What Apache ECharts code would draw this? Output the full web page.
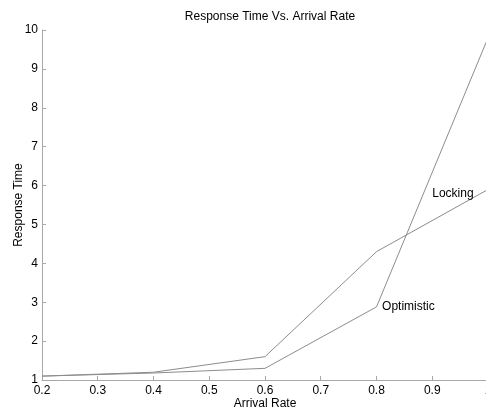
<!DOCTYPE html>
<html>
<head>
<meta charset="utf-8">
<script src="https://cdn.jsdelivr.net/npm/echarts@6/dist/echarts.min.js"></script>
<style>
  html, body { margin: 0; padding: 0; background: #fff; }
  #chart { width: 486px; height: 409px; }
</style>
</head>
<body>
<div id="chart"></div>
<script>
const arrivalRate = [0.2, 0.4, 0.6, 0.8, 1.0]
const locking = [1.1, 1.2, 1.6, 4.3, 5.9]
const optimistic = [1.1, 1.18, 1.3, 2.88, 9.8]
const lockingLabelAt = [0.9, 5.8]
const optimisticLabelAt = [0.81, 2.88]

const font = 'Liberation Sans, Arial, sans-serif'
const lineColor = '#8c8c8c'
const axisColor = '#a8a8a8'

const chart = echarts.init(document.getElementById('chart'))

function pairs(xs, ys) {
  return xs.map((x, i) => [x, ys[i]])
}

function textMark(name, coord) {
  return {
    symbol: 'circle',
    symbolSize: 0,
    silent: true,
    itemStyle: { color: 'transparent' },
    label: { show: true, position: 'right', distance: 0, color: '#000', fontFamily: font, fontSize: 12, formatter: name },
    data: [{ coord: coord }],
  }
}

const option = {
  animation: false,
  backgroundColor: '#fff',
  title: {
    text: 'Response Time Vs. Arrival Rate',
    left: 265,
    textAlign: 'center',
    top: 6,
    textStyle: { fontFamily: font, fontSize: 12, fontWeight: 'normal', color: '#000' },
  },
  grid: { left: 42, width: 446, top: 30, height: 350, containLabel: false, outerBoundsMode: 'none' },
  xAxis: {
    type: 'value',
    min: 0.2,
    max: 1,
    interval: 0.1,
    name: 'Arrival Rate',
    nameLocation: 'middle',
    nameGap: 18,
    nameMoveOverlap: false,
    nameTextStyle: { fontFamily: font, fontSize: 12, color: '#000' },
    axisLine: { show: true, lineStyle: { color: axisColor, width: 1 } },
    axisTick: { show: true, inside: true, length: 4, lineStyle: { color: axisColor } },
    axisLabel: {
      color: '#000', fontFamily: font, fontSize: 12, margin: 5,
      formatter: (v) => String(Math.round(v * 10) / 10),
    },
    splitLine: { show: false },
  },
  yAxis: {
    type: 'value',
    min: 1,
    max: 10,
    interval: 1,
    name: 'Response Time',
    nameLocation: 'middle',
    nameGap: 17,
    nameMoveOverlap: false,
    nameTextStyle: { fontFamily: font, fontSize: 12, color: '#000' },
    axisLine: { show: true, lineStyle: { color: axisColor, width: 1 } },
    axisTick: { show: true, inside: true, length: 4, lineStyle: { color: axisColor } },
    axisLabel: { color: '#000', fontFamily: font, fontSize: 12, margin: 4 },
    splitLine: { show: false },
  },
  series: [
    {
      name: 'Locking',
      type: 'line',
      data: pairs(arrivalRate, locking),
      symbol: 'none',
      lineStyle: { color: lineColor, width: 1 },
      markPoint: textMark('Locking', lockingLabelAt),
    },
    {
      name: 'Optimistic',
      type: 'line',
      data: pairs(arrivalRate, optimistic),
      symbol: 'none',
      lineStyle: { color: lineColor, width: 1 },
      markPoint: textMark('Optimistic', optimisticLabelAt),
    },
  ],
}

chart.setOption(option)
</script>
</body>
</html>
